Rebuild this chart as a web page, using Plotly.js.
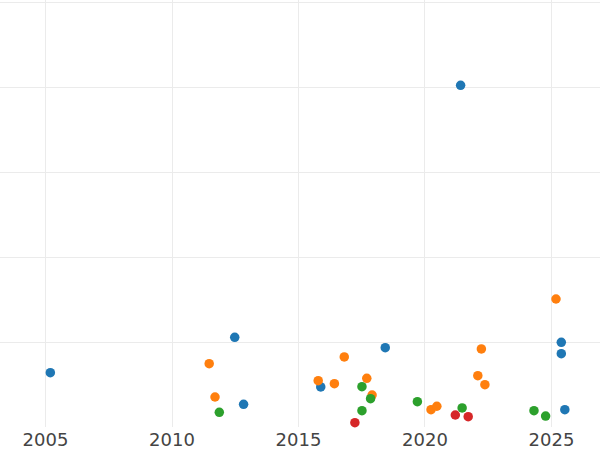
<!DOCTYPE html>
<html>
<head>
<meta charset="utf-8">
<script src="https://cdn.plot.ly/plotly-3.0.1.min.js"></script>
<style>html,body{margin:0;padding:0;background:#fff}#chart{width:600px;height:450px}</style>
</head>
<body>
<div id="chart"></div>
<script>
const blueX = [2005.19, 2021.41, 2012.48, 2012.83, 2015.88, 2018.43, 2025.39, 2025.39, 2025.53];
const blueY = [6.39, 40.2, 10.55, 2.67, 4.71, 9.33, 9.96, 8.62, 2.04];
const orangeX = [2011.47, 2011.70, 2015.78, 2016.42, 2016.81, 2017.70, 2017.91, 2020.24, 2020.47, 2022.23, 2022.09, 2022.37, 2025.18];
const orangeY = [7.45, 3.53, 5.45, 5.09, 8.24, 5.73, 3.76, 2.04, 2.44, 9.18, 6.04, 4.98, 15.06];
const greenX = [2011.87, 2017.51, 2017.85, 2017.51, 2019.70, 2021.47, 2024.31, 2024.77];
const greenY = [1.73, 4.74, 3.33, 1.92, 2.98, 2.24, 1.92, 1.29];
const redX = [2017.23, 2021.20, 2021.71];
const redY = [0.51, 1.41, 1.21];
const xTicks = [2005, 2010, 2015, 2020, 2025];
const yTicks = [10, 20, 30, 40, 50];

function tr(x, y, c) {
  return {x: x, y: y, type: 'scatter', mode: 'markers', cliponaxis: false,
          marker: {color: c, size: 9.5}, hoverinfo: 'skip'};
}
const data = [tr(blueX, blueY, '#1f77b4'), tr(orangeX, orangeY, '#ff7f0e'),
              tr(greenX, greenY, '#2ca02c'), tr(redX, redY, '#d62728')];
const layout = {
  width: 600, height: 450,
  margin: {l: 0, r: 0, t: 0, b: 23, pad: 0},
  paper_bgcolor: '#fff', plot_bgcolor: '#fff',
  showlegend: false,
  font: {family: 'DejaVu Sans', color: '#444', size: 18},
  xaxis: {range: [2003.2, 2026.92], tickvals: xTicks, ticktext: xTicks.map(String),
          showgrid: true, gridcolor: '#ebebeb', gridwidth: 1, zeroline: false,
          showline: false, ticks: '', tickfont: {size: 18, color: '#444'}},
  yaxis: {range: [0, 50.235], tickvals: yTicks, showticklabels: false,
          showgrid: true, gridcolor: '#ebebeb', gridwidth: 1, zeroline: false,
          showline: false, ticks: ''}
};
Plotly.newPlot('chart', data, layout, {displayModeBar: false, staticPlot: true});
</script>
</body>
</html>
